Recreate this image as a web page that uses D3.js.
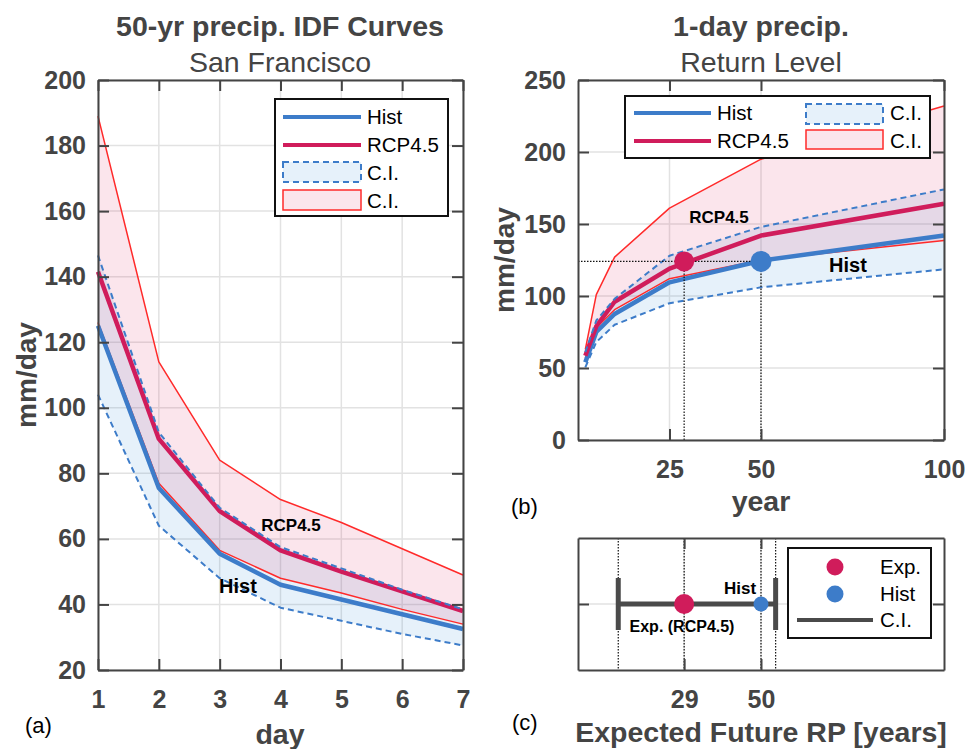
<!DOCTYPE html>
<html>
<head>
<meta charset="utf-8">
<script src="https://cdn.jsdelivr.net/npm/d3@7"></script>
<style>
  body { margin: 0; background: #fff; }
  text { font-family: Arial, "Liberation Sans", Helvetica, sans-serif; }
</style>
</head>
<body>
<svg width="968" height="749"></svg>
<script>
// ---- data: (a) 50-yr IDF curves, mm/day by duration ----
var days = [1, 2, 3, 4, 5, 6, 7];
var idfHist   = [125, 75.5, 55.5, 46, 41.5, 37, 32.5];
var idfHistLo = [104, 64, 48, 39, 35, 31, 27.5];
var idfHistHi = [146.5, 92.5, 69.5, 57.5, 51, 44.5, 38.5];
var idfRcp    = [141.5, 90.5, 68.5, 56.5, 50, 44, 38];
var idfRcpLo  = [126, 77, 56.5, 48, 43.5, 38.5, 34];
var idfRcpHi  = [189, 114, 84, 72, 65, 57, 49];

// ---- data: (b) 1-day return level, mm/day by return period ----
var years = [2, 5, 10, 25, 50, 100];
var rlHist   = [54, 75, 87.5, 109.5, 124.5, 142];
var rlHistLo = [50.5, 68, 80, 95, 106, 118.5];
var rlHistHi = [61, 83, 98, 128, 148, 174];
var rlRcp    = [58.5, 79, 96, 119, 142, 164];
var rlRcpLo  = [57, 78, 90.5, 112, 125, 138.5];
var rlRcpHi  = [63, 101, 127, 161, 195, 232];

// ---- data: (c) expected future return period ----
var expRP = 29, histRP = 50, levelRef = 124;
var ciRP = [11, 54];

var dayTicks = [1, 2, 3, 4, 5, 6, 7];
var idfTicks = [20, 40, 60, 80, 100, 120, 140, 160, 180, 200];
var yearTicks = [25, 50, 100];
var rlTicks = [0, 50, 100, 150, 200, 250];
var rpTicks = [29, 50];

var blue = "#3d7cc9", crimson = "#d01c5b", ciRed = "#ff2a2a", axisCol = "#444";
var blueFill = "rgba(60,150,220,0.13)", pinkFill = "rgba(220,40,100,0.12)";

var svg = d3.select("svg");

function frame(x, y, xt, yt) {
  var g = svg.append("g");
  var L = x.range()[0], R = x.range()[1], B = y.range()[0], T = y.range()[1];
  // grid
  g.selectAll(".gx").data(xt).enter().append("line")
    .attr("x1", d => x(d)).attr("x2", d => x(d)).attr("y1", T).attr("y2", B)
    .attr("stroke", "#e2e2e2").attr("stroke-width", 1.5);
  g.selectAll(".gy").data(yt).enter().append("line")
    .attr("x1", L).attr("x2", R).attr("y1", d => y(d)).attr("y2", d => y(d))
    .attr("stroke", "#e2e2e2").attr("stroke-width", 1.5);
  return g;
}

function axes(x, y, xt, yt, showY) {
  var L = x.range()[0], R = x.range()[1], B = y.range()[0], T = y.range()[1];
  var g = svg.append("g").attr("class", "ax");
  g.append("g").attr("transform", "translate(0," + B + ")")
    .call(d3.axisBottom(x).tickValues(xt).tickFormat(d3.format("d"))
      .tickSizeInner(-11).tickSizeOuter(0).tickPadding(20));
  g.append("g").attr("transform", "translate(0," + T + ")")
    .call(d3.axisTop(x).tickValues(xt).tickSizeInner(-11).tickSizeOuter(0).tickFormat(""));
  var ya = d3.axisLeft(y).tickValues(yt).tickSizeInner(-11).tickSizeOuter(0).tickPadding(12);
  ya.tickFormat(showY ? d3.format("d") : "");
  g.append("g").attr("transform", "translate(" + L + ",0)").call(ya);
  g.append("g").attr("transform", "translate(" + R + ",0)")
    .call(d3.axisRight(y).tickValues(yt).tickSizeInner(-11).tickSizeOuter(0).tickFormat(""));
  g.selectAll(".domain").attr("stroke", axisCol).attr("stroke-width", 2);
  g.selectAll(".tick line").attr("stroke", axisCol).attr("stroke-width", 2);
  g.selectAll(".tick text").attr("fill", axisCol).attr("font-size", 25).attr("font-weight", "bold");
  g.selectAll("text").attr("font-family", null);
}

function text(x, y, s, o) {
  o = o || {};
  var t = svg.append("text").attr("x", x).attr("y", y).text(s)
    .attr("font-size", o.size || 20).attr("font-weight", o.bold ? "bold" : "normal")
    .attr("fill", o.fill || "#000").attr("text-anchor", o.anchor || "start");
  if (o.rotate) t.attr("transform", "rotate(-90," + x + "," + y + ")");
  return t;
}

function band(x, y, xs, lo, hi, fill) {
  var area = d3.area().x((d, i) => x(xs[i])).y0((d, i) => y(lo[i])).y1((d, i) => y(hi[i]));
  svg.append("path").datum(xs).attr("d", area).attr("fill", fill);
}
function curve(x, y, xs, vs, col, w, dash) {
  var line = d3.line().x((d, i) => x(xs[i])).y((d, i) => y(vs[i]));
  svg.append("path").datum(vs).attr("d", line).attr("fill", "none")
    .attr("stroke", col).attr("stroke-width", w).attr("stroke-dasharray", dash || null)
    .attr("stroke-linejoin", "round");
}

// ================= (a) =================
var xa = d3.scaleLinear().domain([1, 7]).range([98, 463]);
var ya = d3.scaleLinear().domain([20, 200]).range([670, 80]);
frame(xa, ya, dayTicks, idfTicks);
band(xa, ya, days, idfHistLo, idfHistHi, blueFill);
band(xa, ya, days, idfRcpLo, idfRcpHi, pinkFill);
curve(xa, ya, days, idfRcpHi, ciRed, 1.5);
curve(xa, ya, days, idfRcpLo, ciRed, 1.5);
curve(xa, ya, days, idfHist, blue, 4.5);
curve(xa, ya, days, idfRcp, crimson, 4.5);
curve(xa, ya, days, idfHistLo, blue, 2, "6,4");
curve(xa, ya, days, idfHistHi, blue, 2, "6,4");
axes(xa, ya, dayTicks, idfTicks, true);

text(280, 36, "50-yr precip. IDF Curves", {size: 28.5, bold: true, anchor: "middle", fill: axisCol});
text(280, 72, "San Francisco", {size: 28.5, anchor: "middle", fill: axisCol});
text(36, 375, "mm/day", {size: 28, bold: true, anchor: "middle", fill: axisCol, rotate: true});
text(280, 744, "day", {size: 28.5, bold: true, anchor: "middle", fill: axisCol});
text(25, 733, "(a)", {size: 22});
text(291, 531, "RCP4.5", {size: 17, bold: true, anchor: "middle"});
text(238, 593, "Hist", {size: 20, bold: true, anchor: "middle"});

// legend (a)
var lgA = svg.append("g");
lgA.append("rect").attr("x", 275).attr("y", 99).attr("width", 173).attr("height", 117)
  .attr("fill", "#fff").attr("stroke", "#111").attr("stroke-width", 2);
lgA.append("line").attr("x1", 283).attr("x2", 361).attr("y1", 117).attr("y2", 117).attr("stroke", blue).attr("stroke-width", 4);
lgA.append("line").attr("x1", 283).attr("x2", 361).attr("y1", 145).attr("y2", 145).attr("stroke", crimson).attr("stroke-width", 4);
lgA.append("rect").attr("x", 283).attr("y", 162).attr("width", 78).attr("height", 20)
  .attr("fill", blueFill).attr("stroke", blue).attr("stroke-width", 2).attr("stroke-dasharray", "6,4");
lgA.append("rect").attr("x", 283).attr("y", 190).attr("width", 78).attr("height", 20)
  .attr("fill", pinkFill).attr("stroke", ciRed).attr("stroke-width", 1.5);
[["Hist", 124], ["RCP4.5", 152], ["C.I.", 180], ["C.I.", 208]].forEach(function (d) {
  text(367, d[1], d[0], {size: 20.5});
});

// ================= (b) =================
var xb = d3.scaleLinear().domain([0, 100]).range([578, 944]);
var yb = d3.scaleLinear().domain([0, 250]).range([440, 80]);
frame(xb, yb, yearTicks, rlTicks);
band(xb, yb, years, rlHistLo, rlHistHi, blueFill);
band(xb, yb, years, rlRcpLo, rlRcpHi, pinkFill);
curve(xb, yb, years, rlRcpHi, ciRed, 1.5);
curve(xb, yb, years, rlRcpLo, ciRed, 1.5);
curve(xb, yb, years, rlHist, blue, 4.5);
curve(xb, yb, years, rlRcp, crimson, 4.5);
curve(xb, yb, years, rlHistLo, blue, 2, "6,4");
curve(xb, yb, years, rlHistHi, blue, 2, "6,4");
// dotted guides
var dot = "1.5,1.5";
svg.append("line").attr("x1", xb(0)).attr("x2", xb(histRP)).attr("y1", yb(levelRef)).attr("y2", yb(levelRef))
  .attr("stroke", "#111").attr("stroke-width", 1.2).attr("stroke-dasharray", dot);
[expRP, histRP].forEach(function (r) {
  svg.append("line").attr("x1", xb(r)).attr("x2", xb(r)).attr("y1", yb(levelRef)).attr("y2", yb(0))
    .attr("stroke", "#111").attr("stroke-width", 1.2).attr("stroke-dasharray", dot);
});
svg.append("circle").attr("cx", xb(expRP)).attr("cy", yb(levelRef)).attr("r", 10).attr("fill", crimson);
svg.append("circle").attr("cx", xb(histRP)).attr("cy", yb(levelRef)).attr("r", 10.5).attr("fill", blue);
axes(xb, yb, yearTicks, rlTicks, true);

text(761, 36, "1-day precip.", {size: 28.5, bold: true, anchor: "middle", fill: axisCol});
text(761, 72, "Return Level", {size: 28.5, anchor: "middle", fill: axisCol});
text(514, 260, "mm/day", {size: 28, bold: true, anchor: "middle", fill: axisCol, rotate: true});
text(761, 511, "year", {size: 28.5, bold: true, anchor: "middle", fill: axisCol});
text(511, 514, "(b)", {size: 22});
text(719, 223, "RCP4.5", {size: 17, bold: true, anchor: "middle"});
text(848, 272, "Hist", {size: 20, bold: true, anchor: "middle"});

// legend (b)
var lgB = svg.append("g");
lgB.append("rect").attr("x", 625).attr("y", 96).attr("width", 305).attr("height", 62)
  .attr("fill", "#fff").attr("stroke", "#111").attr("stroke-width", 2);
lgB.append("line").attr("x1", 634).attr("x2", 711).attr("y1", 113).attr("y2", 113).attr("stroke", blue).attr("stroke-width", 4);
lgB.append("line").attr("x1", 634).attr("x2", 711).attr("y1", 141).attr("y2", 141).attr("stroke", crimson).attr("stroke-width", 4);
lgB.append("rect").attr("x", 806).attr("y", 104).attr("width", 77).attr("height", 20)
  .attr("fill", blueFill).attr("stroke", blue).attr("stroke-width", 2).attr("stroke-dasharray", "6,4");
lgB.append("rect").attr("x", 806).attr("y", 130).attr("width", 77).attr("height", 19)
  .attr("fill", pinkFill).attr("stroke", ciRed).attr("stroke-width", 1.5);
text(717, 120, "Hist", {size: 20.5});
text(717, 148, "RCP4.5", {size: 20.5});
text(890, 120, "C.I.", {size: 20.5});
text(890, 148, "C.I.", {size: 20.5});

// ================= (c) =================
var yc = d3.scaleLinear().domain([0, 2]).range([670, 538]);
frame(xb, yc, rpTicks, [1]);
[ciRP[0], expRP, histRP, ciRP[1]].forEach(function (r) {
  svg.append("line").attr("x1", xb(r)).attr("x2", xb(r)).attr("y1", yc(2)).attr("y2", yc(0))
    .attr("stroke", "#111").attr("stroke-width", 1.2).attr("stroke-dasharray", dot);
});
svg.append("line").attr("x1", xb(ciRP[0])).attr("x2", xb(ciRP[1])).attr("y1", yc(1)).attr("y2", yc(1))
  .attr("stroke", "#4a4a4a").attr("stroke-width", 5);
ciRP.forEach(function (r) {
  svg.append("line").attr("x1", xb(r)).attr("x2", xb(r)).attr("y1", yc(1) - 26).attr("y2", yc(1) + 26)
    .attr("stroke", "#4a4a4a").attr("stroke-width", 5);
});
svg.append("circle").attr("cx", xb(expRP)).attr("cy", yc(1)).attr("r", 10).attr("fill", crimson);
svg.append("circle").attr("cx", xb(histRP)).attr("cy", yc(1)).attr("r", 7.5).attr("fill", blue);
axes(xb, yc, rpTicks, [1], false);

text(740, 594, "Hist", {size: 17, bold: true, anchor: "middle"});
text(682, 632, "Exp. (RCP4.5)", {size: 16, bold: true, anchor: "middle"});
text(761, 742, "Expected Future RP [years]", {size: 28.5, bold: true, anchor: "middle", fill: axisCol});
text(512, 730, "(c)", {size: 22});

// legend (c)
var lgC = svg.append("g");
lgC.append("rect").attr("x", 788).attr("y", 548).attr("width", 143).attr("height", 90)
  .attr("fill", "#fff").attr("stroke", "#111").attr("stroke-width", 2);
lgC.append("circle").attr("cx", 835).attr("cy", 567).attr("r", 8.5).attr("fill", crimson);
lgC.append("circle").attr("cx", 835).attr("cy", 594).attr("r", 8.5).attr("fill", blue);
lgC.append("line").attr("x1", 797).attr("x2", 873).attr("y1", 620).attr("y2", 620).attr("stroke", "#4a4a4a").attr("stroke-width", 4);
text(880, 574, "Exp.", {size: 20.5});
text(880, 601, "Hist", {size: 20.5});
text(880, 627, "C.I.", {size: 20.5});
</script>
</body>
</html>
